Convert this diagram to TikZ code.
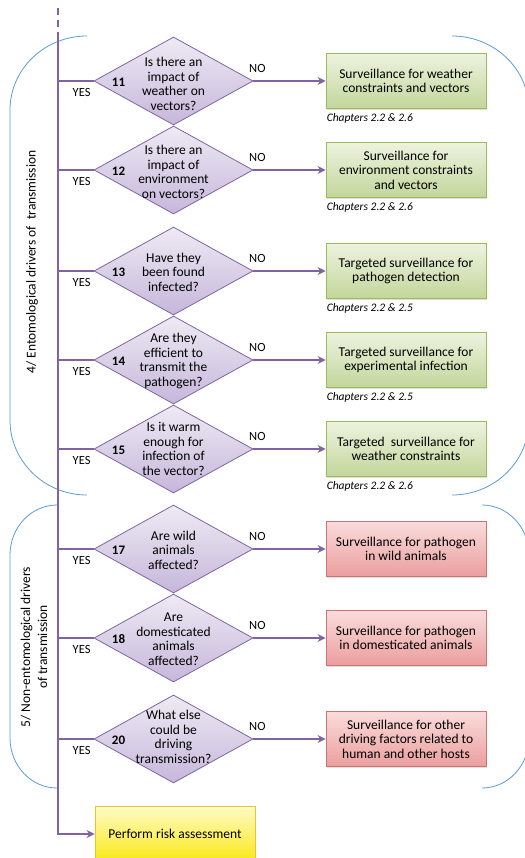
\documentclass[tikz,border=0pt]{standalone}
\usepackage{fontspec}
\setmainfont{Carlito}
\usetikzlibrary{shapes.geometric,arrows.meta,shadows,calc}

\definecolor{flowpurple}{HTML}{8064A2}
\definecolor{qtop}{HTML}{EEEAF4}
\definecolor{qbottom}{HTML}{C6B7DA}
\definecolor{gtop}{HTML}{EDF3DF}
\definecolor{gbottom}{HTML}{C3D69B}
\definecolor{gborder}{HTML}{9BBB59}
\definecolor{rtop}{HTML}{FADCDC}
\definecolor{rbottom}{HTML}{EB9E9E}
\definecolor{rborder}{HTML}{C0504D}
\definecolor{ytop}{HTML}{FFFBC8}
\definecolor{ybottom}{HTML}{FAE814}
\definecolor{yborder}{HTML}{F2C12E}
\definecolor{bracecol}{HTML}{5B9BD5}

\begin{document}
\begin{tikzpicture}[x=1pt,y=-1pt,
  every node/.style={font=\fontsize{13.5}{14.5}\selectfont},
  spine/.style={draw=flowpurple, line width=2.4pt},
  branch/.style={draw=flowpurple, line width=2.2pt},
  noarrow/.style={draw=flowpurple, line width=2.2pt, -{Stealth[length=8pt,width=8pt]}},
  question/.style={diamond, draw=flowpurple, line width=0.8pt, top color=qtop, bottom color=qbottom,
    minimum width=159pt, minimum height=88pt, inner sep=0pt},
  qtext/.style={align=center, inner sep=0pt},
  qnum/.style={font=\fontsize{13}{14.5}\selectfont\bfseries, inner sep=0pt},
  answer/.style={inner sep=0pt, font=\fontsize{12.5}{14}\selectfont},
  boxbase/.style={rectangle, line width=0.8pt, minimum width=160pt, minimum height=55pt,
    align=center, inner sep=2pt,
    drop shadow={shadow xshift=1.2pt, shadow yshift=-1.2pt, opacity=0.25}},
  greenbox/.style={boxbase, draw=gborder, top color=gtop, bottom color=gbottom},
  redbox/.style={boxbase, draw=rborder!80, top color=rtop, bottom color=rbottom},
  yellowbox/.style={boxbase, draw=yborder, top color=ytop, bottom color=ybottom, minimum height=56pt},
  chapter/.style={anchor=west, inner sep=0pt, font=\fontsize{11.5}{13}\selectfont\itshape},
  brace/.style={draw=bracecol, line width=0.8pt},
  grouplabel/.style={rotate=90, align=center, inner sep=0pt, font=\fontsize{13.5}{17}\selectfont}
]
\useasboundingbox (0,0) rectangle (524,858);

% group outlines
\draw[brace] (87,36) arc[start angle=270, end angle=180, x radius=77, y radius=74]
  -- (10,420) arc[start angle=180, end angle=90, x radius=77, y radius=75];
\draw[brace] (452,36) arc[start angle=270, end angle=360, x radius=77, y radius=74]
  -- (529,420) arc[start angle=0, end angle=90, x radius=77, y radius=75];
\draw[brace] (57,505) arc[start angle=270, end angle=180, x radius=47, y radius=50]
  -- (10,738) arc[start angle=180, end angle=90, x radius=47, y radius=50];
\draw[brace] (482,505) arc[start angle=270, end angle=360, x radius=47, y radius=50]
  -- (529,738) arc[start angle=0, end angle=90, x radius=47, y radius=50];

\node[grouplabel] (g4) at (32,262) {4/ Entomological drivers of\ \ transmission};
\node[grouplabel] (g5) at (34,647) {5/ Non-entomological drivers\\of transmission};

% decision diamonds
\node[question] (d11) at (173.5,81) {};
\node[question] (d12) at (173.5,170) {};
\node[question] (d13) at (173.5,271) {};
\node[question] (d14) at (173.5,360) {};
\node[question] (d15) at (173.5,449) {};
\node[question] (d17) at (173.5,549) {};
\node[question] (d18) at (173.5,638) {};
\node[question] (d20) at (173.5,739) {};

\node[qtext] (t11) at ($(d11.center)+(0,3)$) {Is there an\\impact of\\weather on\\vectors?};
\node[qtext] (t12) at ($(d12.center)+(0,2)$) {Is there an\\impact of\\environment\\on vectors?};
\node[qtext] (t13) at ($(d13.center)+(0,1)$) {Have they\\been found\\infected?};
\node[qtext] (t14) at ($(d14.center)+(0,1)$) {Are they\\efficient to\\transmit the\\pathogen?};
\node[qtext] (t15) at ($(d15.center)+(0,0)$) {Is it warm\\enough for\\infection of\\the vector?};
\node[qtext] (t17) at ($(d17.center)+(0,1)$) {Are wild\\animals\\affected?};
\node[qtext] (t18) at ($(d18.center)+(0,1)$) {Are\\domesticated\\animals\\affected?};
\node[qtext] (t20) at ($(d20.center)+(0,-2)$) {What else\\could be\\driving\\transmission?};

\foreach \q in {11,12,13,14,15,17,18,20}{
  \node[qnum] (n\q) at ($(d\q.center)+(-55,1)$) {\q};
}

% surveillance boxes
\node[greenbox] (b11) at (406,81) {Surveillance for weather\\constraints and vectors};
\node[greenbox] (b12) at (406,170) {Surveillance for\\environment constraints\\and vectors};
\node[greenbox] (b13) at (406,271) {Targeted surveillance for\\pathogen detection};
\node[greenbox] (b14) at (406,360) {Targeted surveillance for\\experimental infection};
\node[greenbox] (b15) at (406,449) {Targeted\ \ surveillance for\\weather constraints};
\node[redbox] (b17) at (406,549) {Surveillance for pathogen\\in wild animals};
\node[redbox] (b18) at (406,638) {Surveillance for pathogen\\in domesticated animals};
\node[redbox] (b20) at (406,739) {Surveillance for other\\driving factors related to\\human and other hosts};

\node[chapter] (c11) at ($(b11.south west)+(1,10)$) {Chapters 2.2 \& 2.6};
\node[chapter] (c12) at ($(b12.south west)+(1,10)$) {Chapters 2.2 \& 2.6};
\node[chapter] (c13) at ($(b13.south west)+(1,10)$) {Chapters 2.2 \& 2.5};
\node[chapter] (c14) at ($(b14.south west)+(1,10)$) {Chapters 2.2 \& 2.5};
\node[chapter] (c15) at ($(b15.south west)+(1,10)$) {Chapters 2.2 \& 2.6};

\node[yellowbox] (risk) at (175,834) {Perform risk assessment};

% main spine
\coordinate (dashtop) at (58,8);
\coordinate (spinetop) at (58,37);
\coordinate (spineend) at (58,834);
\draw[spine, dash pattern=on 7pt off 5pt] (dashtop) -- (spinetop);
\draw[spine, -{Stealth[length=8pt,width=8pt]}] (spinetop) -- (spineend) -- (risk.west);

% YES branches and NO arrows
\foreach \q in {11,12,13,14,15,17,18,20}{
  \draw[branch] (d\q.west) -- (d\q.west -| spinetop);
  \node[answer] (yes\q) at ($(d\q.west)+(-12,11)$) {YES};
  \draw[noarrow] (d\q.east) -- (b\q.west);
  \node[answer] (no\q) at ($(d\q.east)+(4,-13)$) {NO};
}
\end{tikzpicture}
\end{document}
